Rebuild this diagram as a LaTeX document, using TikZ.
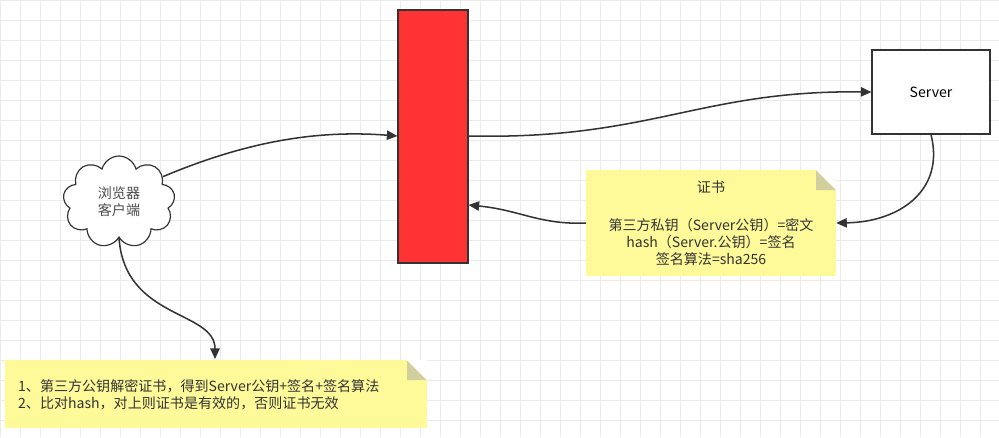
\documentclass[tikz,border=0pt]{standalone}
\usepackage{fontspec}
\setmainfont{Noto Sans CJK SC}
\usetikzlibrary{arrows.meta,positioning,shapes.symbols}
\tikzset{font=\fontsize{12pt}{14.5pt}\selectfont}
\tikzstyle{link}=[draw=black!80,line width=1.3pt,-{Triangle[length=9pt,width=8pt]}]
\tikzstyle{note}=[fill=yellow!40!white,draw=none,align=center,inner sep=0pt]
\tikzstyle{fold}=[fill=yellow!55!black!45!white]
\begin{document}
\begin{tikzpicture}[x=0.03cm,y=-0.03cm]
\useasboundingbox (0,0) rectangle (999,437);
\draw[black!8,step=0.6cm] (0,0) grid (999,437);
\node[draw=black!80,fill=red!80!white,line width=1pt,minimum width=70*0.03cm,minimum height=253*0.03cm] (M) at (433,136.5) {};
\node[draw=black!80,fill=white,line width=1pt,minimum width=118*0.03cm,minimum height=84*0.03cm] (S) at (931,92) {Server};
\node[cloud,cloud puffs=9,aspect=1.25,draw=black!80,fill=white,line width=1pt,minimum width=112*0.03cm,minimum height=92*0.03cm,inner sep=0pt,align=center,text=black!70] (C) at (119,202) {浏览器\\客户端};
% certificate note
\node[note,minimum width=250*0.03cm,minimum height=106*0.03cm] (N) at (711,223) {};
\fill[fold] (816,170) -- (836,190) -- (816,190) -- cycle;
\fill[white] (816,170) -- (836,170) -- (836,190) -- cycle;
\node[align=center,text=black!80] (T) at (711,187) {证书};
\node[align=center,text=black!80] (U) at (711,242) {第三方私钥（Server公钥）=密文\\hash（Server.公钥）=签名\\签名算法=sha256};
% check note
\node[note,minimum width=422*0.03cm,minimum height=68*0.03cm] (K) at (216,394) {};
\fill[fold] (407,360) -- (427,380) -- (407,380) -- cycle;
\fill[white] (407,360) -- (427,360) -- (427,380) -- cycle;
\node[align=left,anchor=west,text=black!80] (L) at (14,395) {1、第三方公钥解密证书，得到Server公钥+签名+签名算法\\2、比对hash，对上则证书是有效的，否则证书无效};
\path[link] (C.30) .. controls (250,140) and (320,130) .. (M.west |- 0,136);
\path[link] (M.east |- 0,136) .. controls (650,140) and (700,90) .. (S.west);
\path[link] (S.south) .. controls (945,190) and (900,222) .. (N.east);
\path[link] (N.west) .. controls (540,225) and (520,210) .. (M.east |- 0,205);
\path[link] (C.south) .. controls (125,320) and (215,310) .. (215,359);
\end{tikzpicture}
\end{document}
